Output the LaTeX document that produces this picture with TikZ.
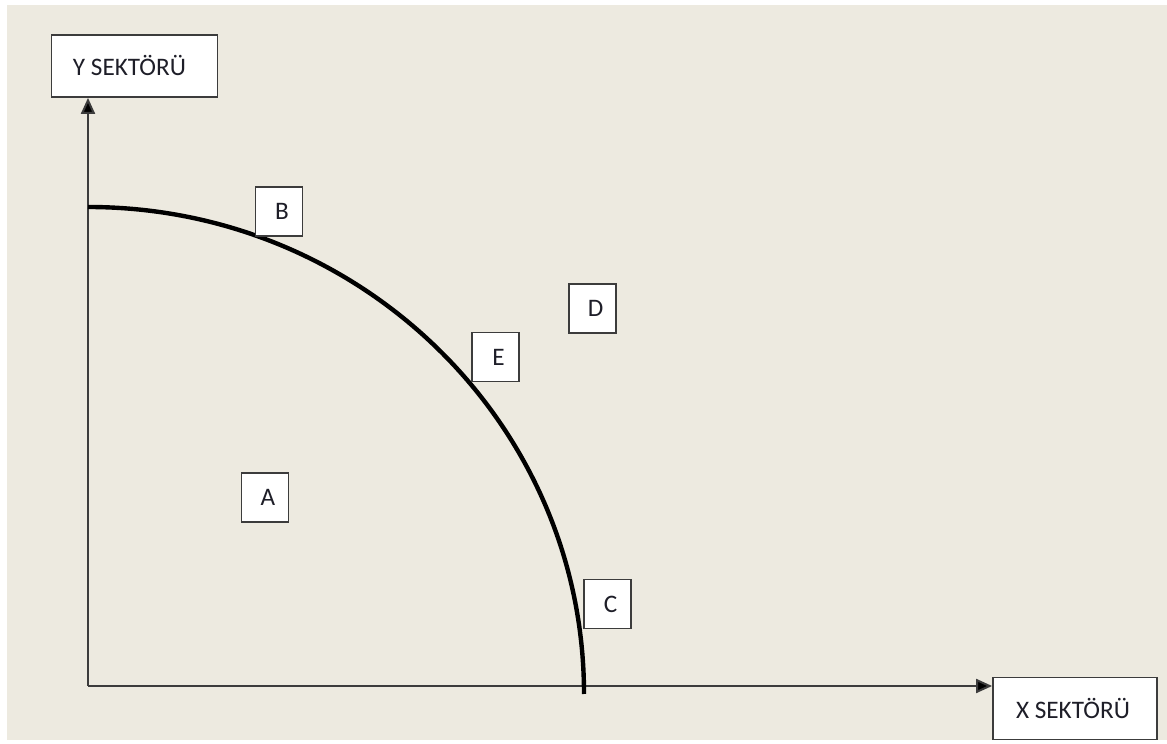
\documentclass[tikz,border=0pt]{standalone}
\usepackage{fontspec}
\setmainfont{Carlito}
\usetikzlibrary{arrows.meta}
\definecolor{paper}{RGB}{237,234,224}
\definecolor{edge}{RGB}{60,60,60}
\definecolor{ink}{RGB}{30,30,40}

\begin{document}
\begin{tikzpicture}[x=0.5pt, y=0.5pt,
  font=\fontsize{12.6}{14}\selectfont, text=ink,
  box/.style={draw=edge, line width=0.9pt, fill=white, inner sep=0pt},
  axisbox/.style={box, minimum width=83pt, minimum height=31pt},
  pointbox/.style={box, minimum width=23.5pt, minimum height=24.5pt},
  axis/.style={draw=edge, line width=1pt, -{Triangle[length=8pt, width=7pt, fill=black]}}]
  \useasboundingbox (0,0) rectangle (1167,744);
  \fill[paper] (7,4) rectangle (1167,739);
  % axes
  \coordinate (o) at (88,58);
  \node[axisbox] (ys) at (134.5,678) {Y SEKTÖRÜ\hspace*{5pt}};
  \node[axisbox, minimum width=82pt] (xs) at (1075,35.5) {X SEKTÖRÜ\hspace*{2pt}};
  \draw[axis] (o) -- (ys.south -| o);
  \draw[axis] (o) -- (xs.west |- o);
  % frontier
  \draw[line width=2.2pt] (88,537) arc[start angle=90, end angle=0, x radius=496, y radius=487];
  % points
  \node[pointbox] (a) at (265,246.5) {\hspace*{3pt}A};
  \node[pointbox] (b) at (279,532.5) {\hspace*{3pt}B};
  \node[pointbox] (c) at (607.5,140) {\hspace*{3pt}C};
  \node[pointbox] (d) at (592.5,435.5) {\hspace*{3pt}D};
  \node[pointbox] (e) at (495.5,387) {\hspace*{3pt}E};
\end{tikzpicture}
\end{document}
